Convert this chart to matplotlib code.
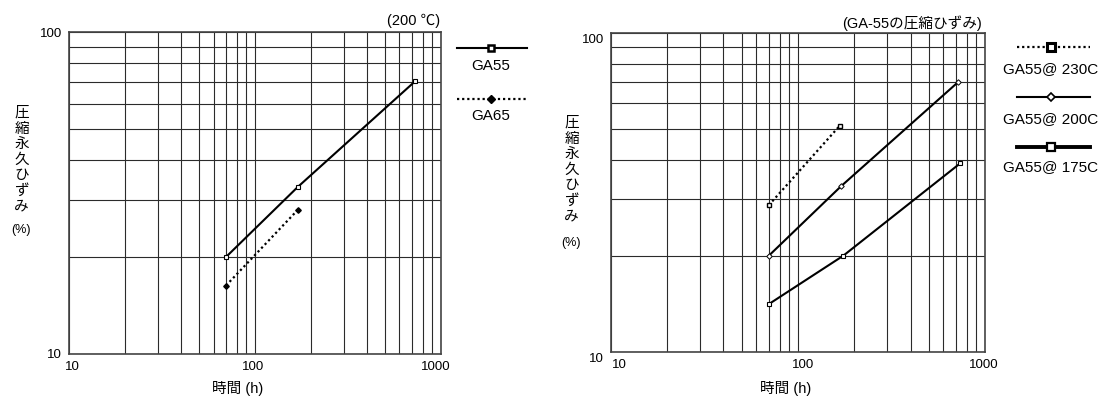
#!/usr/bin/env python3

# Compression set vs time, two log-log panels
# left: GA55 / GA65 at 200C, right: GA-55 at three temperatures

import numpy as np
import matplotlib
matplotlib.use("Agg")
import matplotlib.pyplot as plt
from matplotlib.lines import Line2D
from matplotlib.ticker import FixedLocator, LogLocator, NullFormatter, FuncFormatter
from matplotlib.transforms import ScaledTranslation

plt.rcParams['font.family'] = ['Liberation Sans', 'Noto Sans CJK JP']

# left panel (200C)
hours_ga55 = [70, 170, 730]
set_ga55 = [20, 33, 70.5]
hours_ga65 = [70, 170]
set_ga65 = [16.3, 28.0]

# right panel (GA-55)
hours_230 = [70, 167]
set_230 = [28.8, 51]
hours_200 = [70, 170, 718]
set_200 = [20, 33, 70]
hours_175 = [70, 175, 739]
set_175 = [14.1, 20, 39]

W, H = 1111, 396
fig = plt.figure(figsize=(W / 100, H / 100), dpi=100)


def fx(px):
    return px / W


def fy(py):
    return 1 - py / H


def nudge(labels, shifts, dx=True):
    # shift tick labels by a few pixels
    for lab, s in zip(labels, shifts):
        off = ScaledTranslation(s / 100, 0, fig.dpi_scale_trans) if dx else \
            ScaledTranslation(0, s / 100, fig.dpi_scale_trans)
        lab.set_transform(lab.get_transform() + off)


GRID = '#2b2b2b'


def setup(ax):
    ax.set_xscale('log')
    ax.set_yscale('log')
    ax.set_xlim(10, 1000)
    ax.set_ylim(10, 100)
    ax.xaxis.set_major_locator(FixedLocator([10, 100, 1000]))
    ax.yaxis.set_major_locator(FixedLocator([10, 100]))
    ax.xaxis.set_minor_locator(LogLocator(base=10, subs=np.arange(2, 10)))
    ax.yaxis.set_minor_locator(LogLocator(base=10, subs=np.arange(2, 10)))
    fmt = FuncFormatter(lambda v, p: f'{v:g}')
    ax.xaxis.set_major_formatter(fmt)
    ax.yaxis.set_major_formatter(fmt)
    ax.xaxis.set_minor_formatter(NullFormatter())
    ax.yaxis.set_minor_formatter(NullFormatter())
    ax.tick_params(which='both', length=0, labelsize=9.5)
    ax.tick_params(axis='x', pad=5)
    ax.tick_params(axis='y', pad=5)
    ax.grid(True, which='both', color=GRID, lw=0.8)
    for s in ax.spines.values():
        s.set_color('#444444')
        s.set_linewidth(1.2)


ax_l = fig.add_axes([fx(69), fy(353.7), fx(440.7 - 69), (353.7 - 32.3) / H])
ax_r = fig.add_axes([fx(610.7), fy(351.7), fx(985 - 610.7), (351.7 - 32.7) / H])
setup(ax_l)
setup(ax_r)

# left panel curves
ax_l.plot(hours_ga55, set_ga55, '-', color='black', lw=1.5, marker='s', ms=3.2,
          mfc='white', mec='black', mew=0.8, zorder=4)
ax_l.plot(hours_ga65, set_ga65, color='black', lw=1.6, ls=(0, (1, 1.3)), marker='D',
          ms=2.8, mfc='black', mec='black', zorder=4)

# right panel curves
ax_r.plot(hours_230, set_230, color='black', lw=1.6, ls=(0, (1, 1.3)), marker='s', ms=3.5,
          mfc='white', mec='black', mew=1.0, zorder=4)
ax_r.plot(hours_200, set_200, '-', color='black', lw=1.5, marker='D', ms=2.8,
          mfc='white', mec='black', mew=0.7, zorder=4)
ax_r.plot(hours_175, set_175, '-', color='black', lw=1.5, marker='s', ms=3.2,
          mfc='white', mec='black', mew=0.8, zorder=4)

# tick label placement
nudge(ax_l.get_xticklabels(), [3, -2, -5])
nudge(ax_r.get_xticklabels(), [9, 5, -1])
nudge(ax_r.get_yticklabels(), [-6, -6], dx=False)

# titles
fig.text(fx(440), fy(20.7), '(200 ℃)', ha='right', va='center', fontsize=10.5)
fig.text(fx(982), fy(22.7), '(GA-55の圧縮ひずみ)', ha='right', va='center', fontsize=10.5)

# vertical y labels
ylab = '圧縮永久ひずみ'
for x0, y0, yp in [(21.7, 113, 230), (571.7, 123, 243)]:
    for i, ch in enumerate(ylab):
        fig.text(fx(x0), fy(y0 + i * 15.6), ch, ha='center', va='center', fontsize=10.5)
    fig.text(fx(x0 - 1), fy(yp), '(%)', ha='center', va='center', fontsize=9)

# x labels
fig.text(fx(238), fy(388), '時間 (h)', ha='center', va='center', fontsize=10.5)
fig.text(fx(785.7), fy(388), '時間 (h)', ha='center', va='center', fontsize=10.5)


# legend entries drawn in figure pixels
def leg_entry(x0, x1, xm, y, ty, text, ls, lw, marker, ms, mfc, mew):
    fig.add_artist(Line2D([fx(x0), fx(x1)], [fy(y), fy(y)], transform=fig.transFigure,
                          color='black', lw=lw, ls=ls))
    fig.add_artist(Line2D([fx(xm)], [fy(y)], transform=fig.transFigure, color='black',
                          marker=marker, ms=ms, mfc=mfc, mec='black', mew=mew, ls='none'))
    fig.text(fx(xm), fy(ty), text, ha='center', va='center', fontsize=11)


leg_entry(457, 527, 490.7, 48.3, 65.7, 'GA55', '-', 1.5, 's', 5, 'white', 1.8)
leg_entry(457, 527, 490.7, 98.7, 115.7, 'GA65', (0, (1, 1.3)), 1.6, 'D', 4.5, 'black', 1)

leg_entry(1016.7, 1090, 1050.7, 47.3, 69.3, 'GA55@ 230C', (0, (1, 1.3)), 1.6, 's', 6, 'white', 2.2)
leg_entry(1016.7, 1090, 1050.7, 96.7, 119, 'GA55@ 200C', '-', 1.5, 'D', 4, 'white', 1.2)
leg_entry(1016.7, 1090, 1050.7, 147.3, 166.7, 'GA55@ 175C', '-', 2.8, 's', 6, 'white', 1.6)

fig.savefig('out.png', dpi=100)
plt.close(fig)
